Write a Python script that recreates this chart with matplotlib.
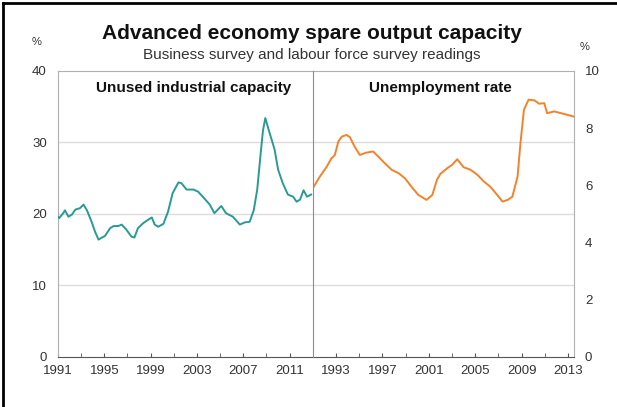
import numpy as np
import matplotlib.pyplot as plt
from matplotlib.lines import Line2D

plt.rcParams['font.family'] = ['Liberation Sans', 'DejaVu Sans']

# Unused industrial capacity, % (left panel)
cap_year = [1991.0, 1991.1, 1991.45, 1991.6, 1991.9, 1992.2, 1992.5, 1992.9, 1993.2, 1993.5,
            1993.9, 1994.2, 1994.5, 1994.8, 1995.05, 1995.5, 1995.8, 1996.2, 1996.5, 1996.9,
            1997.35, 1997.6, 1997.9, 1998.35, 1998.8, 1999.1, 1999.35, 1999.65, 2000.1, 2000.5,
            2000.9, 2001.4, 2001.65, 2002.1, 2002.7, 2003.1, 2003.5, 2004.1, 2004.5, 2005.1,
            2005.5, 2006.1, 2006.7, 2007.1, 2007.55, 2007.9, 2008.2, 2008.5, 2008.7, 2008.9,
            2009.2, 2009.7, 2010.0, 2010.4, 2010.85, 2011.3, 2011.6, 2011.9, 2012.2, 2012.5,
            2012.85]
cap_val = [19.6, 19.4, 20.1, 20.5, 19.6, 19.9, 20.6, 20.8, 21.3, 20.5,
           18.9, 17.5, 16.4, 16.7, 16.9, 18.0, 18.3, 18.3, 18.5, 17.8,
           16.8, 16.7, 18.0, 18.7, 19.2, 19.5, 18.5, 18.2, 18.6, 20.3,
           22.9, 24.4, 24.3, 23.4, 23.4, 23.1, 22.4, 21.3, 20.1, 21.1,
           20.1, 19.6, 18.5, 18.8, 18.9, 20.5, 23.4, 28.5, 31.7, 33.4,
           31.7, 29.0, 26.2, 24.3, 22.7, 22.4, 21.7, 22.0, 23.3, 22.4,
           22.7]

# Unemployment rate, % (right panel)
unemp_year = [1991.0, 1991.6, 1992.2, 1992.6, 1992.9, 1993.2, 1993.5, 1993.9, 1994.2, 1994.6,
              1995.05, 1995.6, 1996.2, 1996.65, 1997.2, 1997.8, 1998.4, 1998.95, 1999.5, 2000.1,
              2000.8, 2001.3, 2001.7, 2002.0, 2002.6, 2003.0, 2003.45, 2004.0, 2004.6, 2005.2,
              2005.75, 2006.3, 2006.9, 2007.35, 2007.8, 2008.2, 2008.65, 2008.9, 2009.2, 2009.6,
              2010.1, 2010.5, 2010.95, 2011.2, 2011.8, 2012.4, 2012.95, 2013.5]
unemp_val = [5.90, 6.30, 6.65, 6.94, 7.06, 7.53, 7.70, 7.76, 7.68, 7.35,
             7.06, 7.14, 7.18, 7.00, 6.77, 6.54, 6.42, 6.24, 5.95, 5.66,
             5.49, 5.66, 6.19, 6.40, 6.60, 6.71, 6.91, 6.63, 6.54, 6.36,
             6.13, 5.95, 5.66, 5.43, 5.49, 5.60, 6.30, 7.47, 8.64, 8.99,
             8.97, 8.85, 8.87, 8.52, 8.58, 8.52, 8.46, 8.40]

left_ticks = [0, 10, 20, 30, 40]
right_ticks = [0, 2, 4, 6, 8, 10]
left_years = [1991, 1995, 1999, 2003, 2007, 2011]
right_years = [1993, 1997, 2001, 2005, 2009, 2013]

teal = '#2a9a94'
orange = '#f5822a'
frame = '#b0b0b0'
grid = '#dcdcdc'
txt = '#333333'

fig = plt.figure(figsize=(6.17, 4.07), dpi=100)
ax1 = fig.add_axes([0.094, 0.123, 0.413, 0.703])
ax2 = fig.add_axes([0.507, 0.123, 0.423, 0.703])

ax1.plot(cap_year, cap_val, color=teal, lw=1.4, zorder=3)
ax2.plot(unemp_year, unemp_val, color=orange, lw=1.4, zorder=3)

ax1.set_xlim(1991, 2013)
ax1.set_ylim(0, 40)
ax2.set_xlim(1991, 2013.5)
ax2.set_ylim(0, 10)

ax1.set_yticks(left_ticks)
ax1.set_xticks(left_years)
ax1.set_xticks(np.arange(1993, 2014, 4), minor=True)
ax2.yaxis.tick_right()
ax2.set_yticks(right_ticks)
ax2.set_xticks(right_years)
ax2.set_xticks(np.arange(1991, 2012, 4), minor=True)

# horizontal grid follows the left scale across both panels
for g in left_ticks[1:-1]:
    ax1.axhline(g, color=grid, lw=1, zorder=1)
    ax2.axhline(g * 10 / 40, color=grid, lw=1, zorder=1)

for ax in (ax1, ax2):
    ax.tick_params(axis='y', length=0, labelsize=9.5, labelcolor=txt, pad=8)
    ax.tick_params(axis='x', which='both', direction='in', length=3, color='#555555',
                   labelsize=9.5, labelcolor=txt, pad=6)
    for s in ('top', 'left', 'right'):
        ax.spines[s].set_color(frame)
    ax.spines['bottom'].set_color('#555555')

# divider between the two panels
ax1.spines['right'].set_visible(False)
ax2.spines['left'].set_color('#8c8c8c')
ax2.spines['left'].set_zorder(5)

ax1.text(0.531, 0.94, 'Unused industrial capacity', transform=ax1.transAxes,
         ha='center', va='center', fontsize=11, fontweight='bold', color='#111111')
ax2.text(0.489, 0.94, 'Unemployment rate', transform=ax2.transAxes,
         ha='center', va='center', fontsize=11, fontweight='bold', color='#111111')

fig.text(0.506, 0.918, 'Advanced economy spare output capacity', ha='center', va='center',
         fontsize=15, fontweight='bold', color='#111111')
fig.text(0.506, 0.866, 'Business survey and labour force survey readings', ha='center',
         va='center', fontsize=11, color=txt)
fig.text(0.060, 0.897, '%', ha='center', va='center', fontsize=8, color=txt)
fig.text(0.948, 0.885, '%', ha='center', va='center', fontsize=8, color=txt)

# black border along top and left edges
fig.add_artist(Line2D([3 / 617, 1], [1 - 3 / 407, 1 - 3 / 407], color='black', lw=2,
                      transform=fig.transFigure))
fig.add_artist(Line2D([3 / 617, 3 / 617], [0, 1 - 3 / 407], color='black', lw=2,
                      transform=fig.transFigure))

fig.savefig('out.png', dpi=100)
